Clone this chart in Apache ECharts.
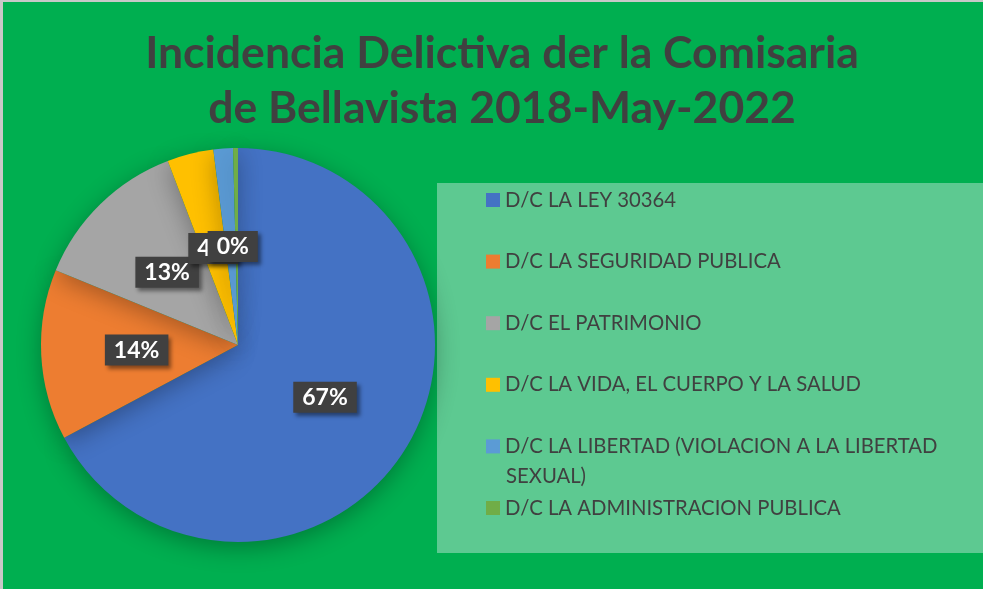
<!DOCTYPE html>
<html>
<head>
<meta charset="utf-8">
<script src="https://cdn.jsdelivr.net/npm/echarts@6/dist/echarts.min.js"></script>
<style>
  html, body { margin: 0; padding: 0; background: #c8c8c8; }
  #chart { position: absolute; left: 3px; top: 2px; width: 980px; height: 587px; }
</style>
</head>
<body>
<div id="chart"></div>
<script>
// delitos por tipo (porcentaje)
const categories = [
  'D/C LA LEY 30364',
  'D/C LA SEGURIDAD PUBLICA',
  'D/C EL PATRIMONIO',
  'D/C LA VIDA, EL CUERPO Y LA SALUD',
  'D/C LA LIBERTAD (VIOLACION A LA LIBERTAD SEXUAL)',
  'D/C LA ADMINISTRACION PUBLICA'
]
const values = [67.2, 14.0, 13.0, 3.8, 1.6, 0.4]
const colors = ['#4472C4', '#ED7D31', '#A5A5A5', '#FFC000', '#5B9BD5', '#70AD47']

const chart = echarts.init(document.getElementById('chart'))
chart.setOption({
  backgroundColor: '#00AF50',
  color: colors,
  title: {
    text: 'Incidencia Delictiva der la Comisaria\nde Bellavista 2018-May-2022',
    left: 494,
    top: 19,
    textAlign: 'center',
    textStyle: {
      fontFamily: 'Lato',
      fontWeight: 'bold',
      fontSize: 44.5,
      lineHeight: 55,
      color: '#404040'
    }
  },
  graphic: [
    {
      type: 'rect',
      z: 0,
      shape: { x: 434, y: 181, width: 546, height: 370 },
      style: { fill: '#5DC991' }
    },
    {
      type: 'text',
      z: 10,
      left: 503,
      top: 464,
      style: {
        text: 'SEXUAL)',
        fontFamily: 'Lato',
        fontSize: 20.3,
        fill: '#404040'
      }
    }
  ],
  legend: {
    orient: 'vertical',
    left: 478,
    top: 183,
    itemWidth: 14,
    itemHeight: 14,
    itemGap: 41.6,
    icon: 'rect',
    data: categories,
    formatter: function (name) {
      return name.replace(' SEXUAL)', '')
    },
    textStyle: {
      fontFamily: 'Lato',
      fontSize: 20.3,
      lineHeight: 20,
      color: '#404040'
    }
  },
  series: [
    {
      type: 'pie',
      center: [235, 343],
      radius: 197,
      startAngle: 90,
      clockwise: true,
      avoidLabelOverlap: false,
      labelLayout: { hideOverlap: false },
      itemStyle: {
        shadowBlur: 25,
        shadowColor: 'rgba(0,0,0,0.3)',
        shadowOffsetY: 6
      },
      label: {
        position: 'inside',
        formatter: function (p) {
          return Math.round(p.percent) + '%'
        },
        color: '#fff',
        fontFamily: 'Lato',
        fontWeight: 'bold',
        fontSize: 23,
        backgroundColor: '#404040',
        padding: [5, 9, 3, 9],
        shadowColor: 'rgba(0,0,0,0.45)',
        shadowBlur: 4,
        shadowOffsetX: 3,
        shadowOffsetY: 3
      },
      labelLine: { show: false },
      emphasis: { disabled: true },
      data: categories.map(function (c, i) {
        const item = { name: c, value: values[i] }
        if (i === 3) item.label = { offset: [0, 2] }
        if (i === 4) item.label = { show: false }
        if (i === 5) item.label = { offset: [-4, 3] }
        return item
      })
    }
  ]
})
</script>
</body>
</html>
